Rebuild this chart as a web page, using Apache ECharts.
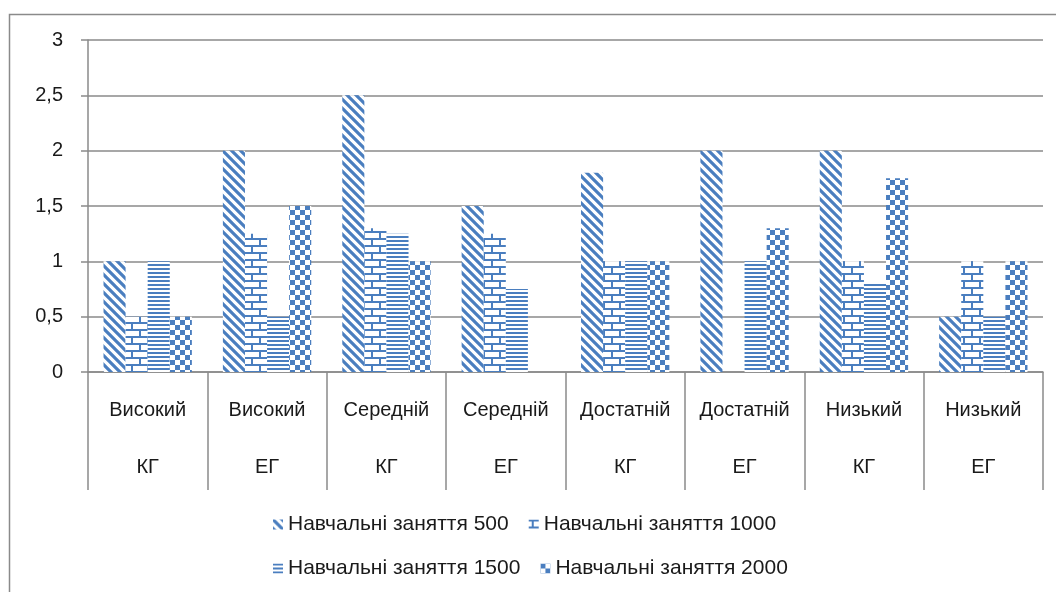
<!DOCTYPE html>
<html>
<head>
<meta charset="utf-8">
<script src="https://cdn.jsdelivr.net/npm/echarts@6/dist/echarts.min.js"></script>
<style>
  html, body { margin: 0; padding: 0; background: #fff; }
  #chart { width: 1056px; height: 592px; }
</style>
</head>
<body>
<div id="chart"></div>
<script>
  // categories: level + group
  const levels = ['Високий', 'Високий', 'Середній', 'Середній', 'Достатній', 'Достатній', 'Низький', 'Низький'];
  const groups = ['КГ', 'ЕГ', 'КГ', 'ЕГ', 'КГ', 'ЕГ', 'КГ', 'ЕГ'];

  const seriesNames = ['Навчальні заняття 500', 'Навчальні заняття 1000', 'Навчальні заняття 1500', 'Навчальні заняття 2000'];
  const lessons500 = [1, 2, 2.5, 1.5, 1.8, 2, 2, 0.5];
  const lessons1000 = [0.5, 1.25, 1.3, 1.25, 1, 0, 1, 1];
  const lessons1500 = [1, 0.5, 1.25, 0.75, 1, 1, 0.8, 0.5];
  const lessons2000 = [0.5, 1.5, 1, 0, 1, 1.3, 1.75, 1];

  const yTicks = [0, 0.5, 1, 1.5, 2, 2.5, 3];

  const BLUE = '#4a7ebf';
  const FONT = '"Liberation Sans", sans-serif';
  const TEXT = '#1a1a1a';

  // --- pattern tiles ---
  function makeTile (w, h, draw) {
    const c = document.createElement('canvas');
    c.width = w;
    c.height = h;
    const ctx = c.getContext('2d');
    ctx.fillStyle = '#fff';
    ctx.fillRect(0, 0, w, h);
    ctx.fillStyle = BLUE;
    ctx.strokeStyle = BLUE;
    draw(ctx);
    return c;
  }

  const diagTile = makeTile(9, 9, ctx => {
    ctx.lineWidth = 3.2;
    ctx.beginPath();
    for (let k = -9; k <= 9; k += 9) {
      ctx.moveTo(k - 2, -2);
      ctx.lineTo(k + 11, 11);
    }
    ctx.stroke();
  });

  const brickTile = makeTile(16, 14, ctx => {
    ctx.fillRect(0, 0, 16, 2);
    ctx.fillRect(0, 7, 16, 2);
    ctx.fillRect(3, 2, 2, 5);
    ctx.fillRect(11, 9, 2, 5);
  });

  const hlineTile = makeTile(4, 4, ctx => {
    ctx.fillRect(0, 0, 4, 2);
  });

  const checkTile = makeTile(10, 10, ctx => {
    ctx.fillRect(0, 0, 5, 5);
    ctx.fillRect(5, 5, 5, 5);
  });

  const patterns = [diagTile, brickTile, hlineTile, checkTile];
  const seriesData = [lessons500, lessons1000, lessons1500, lessons2000];

  const categories = levels.map((l, i) => l + '\n' + groups[i]);

  const chart = echarts.init(document.getElementById('chart'));

  const series = seriesData.map((d, i) => ({
    name: seriesNames[i],
    type: 'bar',
    data: d,
    barGap: '0%',
    barCategoryGap: '26%',
    itemStyle: {
      color: { image: patterns[i], repeat: 'repeat' }
    }
  }));

  const legendCommon = {
    left: 268,
    orient: 'horizontal',
    itemWidth: 10,
    itemHeight: 10,
    itemGap: 20,
    icon: 'rect',
    textStyle: { fontFamily: FONT, fontSize: 21, color: TEXT }
  };

  chart.setOption({
    animation: false,
    backgroundColor: '#fff',
    textStyle: { fontFamily: FONT },
    grid: {
      left: 88,
      right: 13,
      top: 40,
      bottom: 220
    },
    legend: [
      Object.assign({}, legendCommon, { top: 509, data: seriesNames.slice(0, 2) }),
      Object.assign({}, legendCommon, { top: 553, data: seriesNames.slice(2, 4) })
    ],
    xAxis: {
      type: 'category',
      data: categories,
      axisLine: { lineStyle: { color: '#8a8a8a', width: 1.5 } },
      axisTick: {
        show: true,
        interval: 0,
        length: 118,
        lineStyle: { color: '#8a8a8a', width: 1.5 }
      },
      axisLabel: {
        interval: 0,
        margin: 10,
        lineHeight: 57,
        fontSize: 20,
        color: TEXT,
        fontFamily: FONT
      }
    },
    yAxis: {
      type: 'value',
      min: yTicks[0],
      max: yTicks[yTicks.length - 1],
      interval: 0.5,
      axisLine: { show: true, lineStyle: { color: '#8a8a8a', width: 1.5 } },
      axisTick: { show: true, length: 7, lineStyle: { color: '#8a8a8a', width: 1.5 } },
      axisLabel: {
        margin: 25,
        fontSize: 20,
        color: TEXT,
        fontFamily: FONT,
        formatter: v => String(v).replace('.', ',')
      },
      splitLine: { lineStyle: { color: '#8a8a8a', width: 1.5 } }
    },
    graphic: [{
      type: 'rect',
      silent: true,
      shape: { x: 9.5, y: 14.5, width: 1060, height: 600 },
      style: { fill: null, stroke: '#8a8a8a', lineWidth: 1.5 }
    }],
    series: series
  });
</script>
</body>
</html>
